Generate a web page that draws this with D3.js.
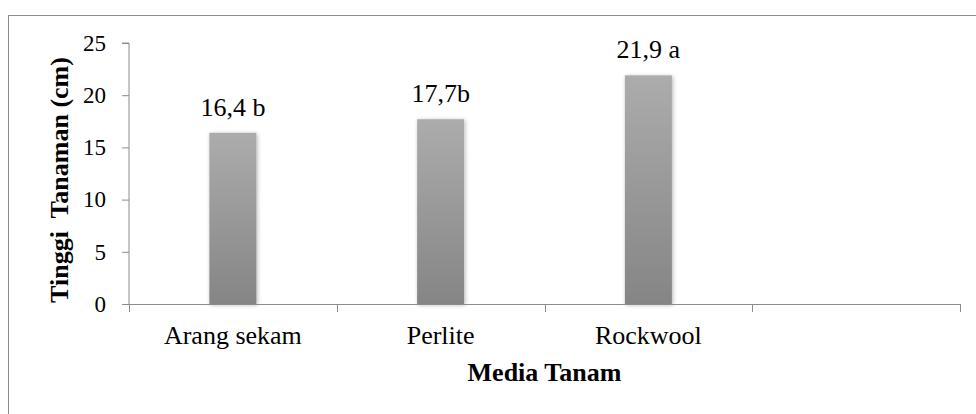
<!DOCTYPE html>
<html>
<head>
<meta charset="utf-8">
<script src="https://cdn.jsdelivr.net/npm/d3@7"></script>
<style>
  html, body { margin: 0; padding: 0; background: #fff; }
  svg { display: block; }
  text { font-family: "Liberation Serif", "Times New Roman", serif; fill: #000; }
</style>
</head>
<body>
<svg id="chart" width="976" height="414"></svg>
<script>
// Plant height by growing medium
const categories = ["Arang sekam", "Perlite", "Rockwool", ""];
const heights = [16.4, 17.7, 21.9];
const notations = ["16,4 b", "17,7b", "21,9 a"];
const yTicks = [0, 5, 10, 15, 20, 25];
const yTitle = "Tinggi\u00A0 Tanaman (cm)";
const xTitle = "Media Tanam";

const W = 976, H = 414;
const margin = { left: 129, right: 16, top: 43, bottom: 110 };
const serif = '"Liberation Serif", "Times New Roman", serif';

const svg = d3.select("#chart");

// outer frame
svg.append("rect")
  .attr("x", 8.5).attr("y", 15.5)
  .attr("width", W).attr("height", H)
  .attr("fill", "none").attr("stroke", "#8c8c8c").attr("stroke-width", 1);

const x = d3.scaleBand()
  .domain(categories.map((c, i) => i))
  .range([margin.left, W - margin.right])
  .paddingInner(0).paddingOuter(0);

const y = d3.scaleLinear().domain([0, 25]).range([H - margin.bottom, margin.top]);

const defs = svg.append("defs");
const grad = defs.append("linearGradient")
  .attr("id", "barFill").attr("x1", 0).attr("y1", 0).attr("x2", 0).attr("y2", 1);
grad.append("stop").attr("offset", "0%").attr("stop-color", "#acacac");
grad.append("stop").attr("offset", "100%").attr("stop-color", "#858585");

const shadow = defs.append("filter").attr("id", "barShadow")
  .attr("x", "-30%").attr("y", "-10%").attr("width", "160%").attr("height", "120%");
shadow.append("feGaussianBlur").attr("in", "SourceAlpha").attr("stdDeviation", 2.2).attr("result", "blur");
shadow.append("feOffset").attr("in", "blur").attr("dx", 1).attr("dy", 1).attr("result", "off");
shadow.append("feComponentTransfer").attr("in", "off").attr("result", "soft")
  .append("feFuncA").attr("type", "linear").attr("slope", 0.3);
const merge = shadow.append("feMerge");
merge.append("feMergeNode").attr("in", "soft");
merge.append("feMergeNode").attr("in", "SourceGraphic");

// y axis
const yAxis = svg.append("g")
  .attr("transform", `translate(${margin.left},0)`)
  .call(d3.axisLeft(y).tickValues(yTicks).tickSize(7).tickPadding(16).tickFormat(d3.format("d")));
yAxis.select(".domain").attr("stroke", "#8c8c8c").attr("d", `M-7,${y(25)}H0V${y(0)}`);
yAxis.selectAll(".tick line").attr("stroke", "#8c8c8c");
yAxis.selectAll(".tick text")
  .style("font-family", serif).style("font-size", "23px").attr("fill", "#000");

// bars
const barW = 47;
svg.append("g").selectAll("rect")
  .data(heights)
  .join("rect")
  .attr("x", (d, i) => x(i) + x.bandwidth() / 2 - barW / 2)
  .attr("y", d => y(d))
  .attr("width", barW)
  .attr("height", d => y(0) - y(d))
  .attr("fill", "url(#barFill)")
  .attr("filter", "url(#barShadow)");

// x axis
const xAxisY = y(0);
const xg = svg.append("g");
xg.append("line")
  .attr("x1", margin.left).attr("x2", W - margin.right)
  .attr("y1", xAxisY + 0.5).attr("y2", xAxisY + 0.5)
  .attr("stroke", "#8c8c8c");
const boundaries = categories.map((c, i) => x(i)).concat([x(categories.length - 1) + x.bandwidth()]);
xg.selectAll("line.tk")
  .data(boundaries)
  .join("line").attr("class", "tk")
  .attr("x1", d => Math.round(d) + 0.5).attr("x2", d => Math.round(d) + 0.5)
  .attr("y1", xAxisY).attr("y2", xAxisY + 8)
  .attr("stroke", "#8c8c8c");
xg.selectAll("text")
  .data(categories)
  .join("text")
  .attr("x", (d, i) => x(i) + x.bandwidth() / 2)
  .attr("y", xAxisY + 40)
  .attr("text-anchor", "middle")
  .style("font-size", "26px")
  .text(d => d);

// value labels
svg.append("g").selectAll("text")
  .data(heights)
  .join("text")
  .attr("x", (d, i) => x(i) + x.bandwidth() / 2)
  .attr("y", d => y(d) - 17)
  .attr("text-anchor", "middle")
  .style("font-size", "26px")
  .text((d, i) => notations[i]);

// axis titles
svg.append("text")
  .attr("x", (margin.left + W - margin.right) / 2)
  .attr("y", 381)
  .attr("text-anchor", "middle")
  .style("font-size", "26px").style("font-weight", "bold")
  .text(xTitle);

svg.append("text")
  .attr("transform", `translate(68,180) rotate(-90)`)
  .attr("text-anchor", "middle")
  .style("font-size", "26px").style("font-weight", "bold")
  .text(yTitle);
</script>
</body>
</html>
